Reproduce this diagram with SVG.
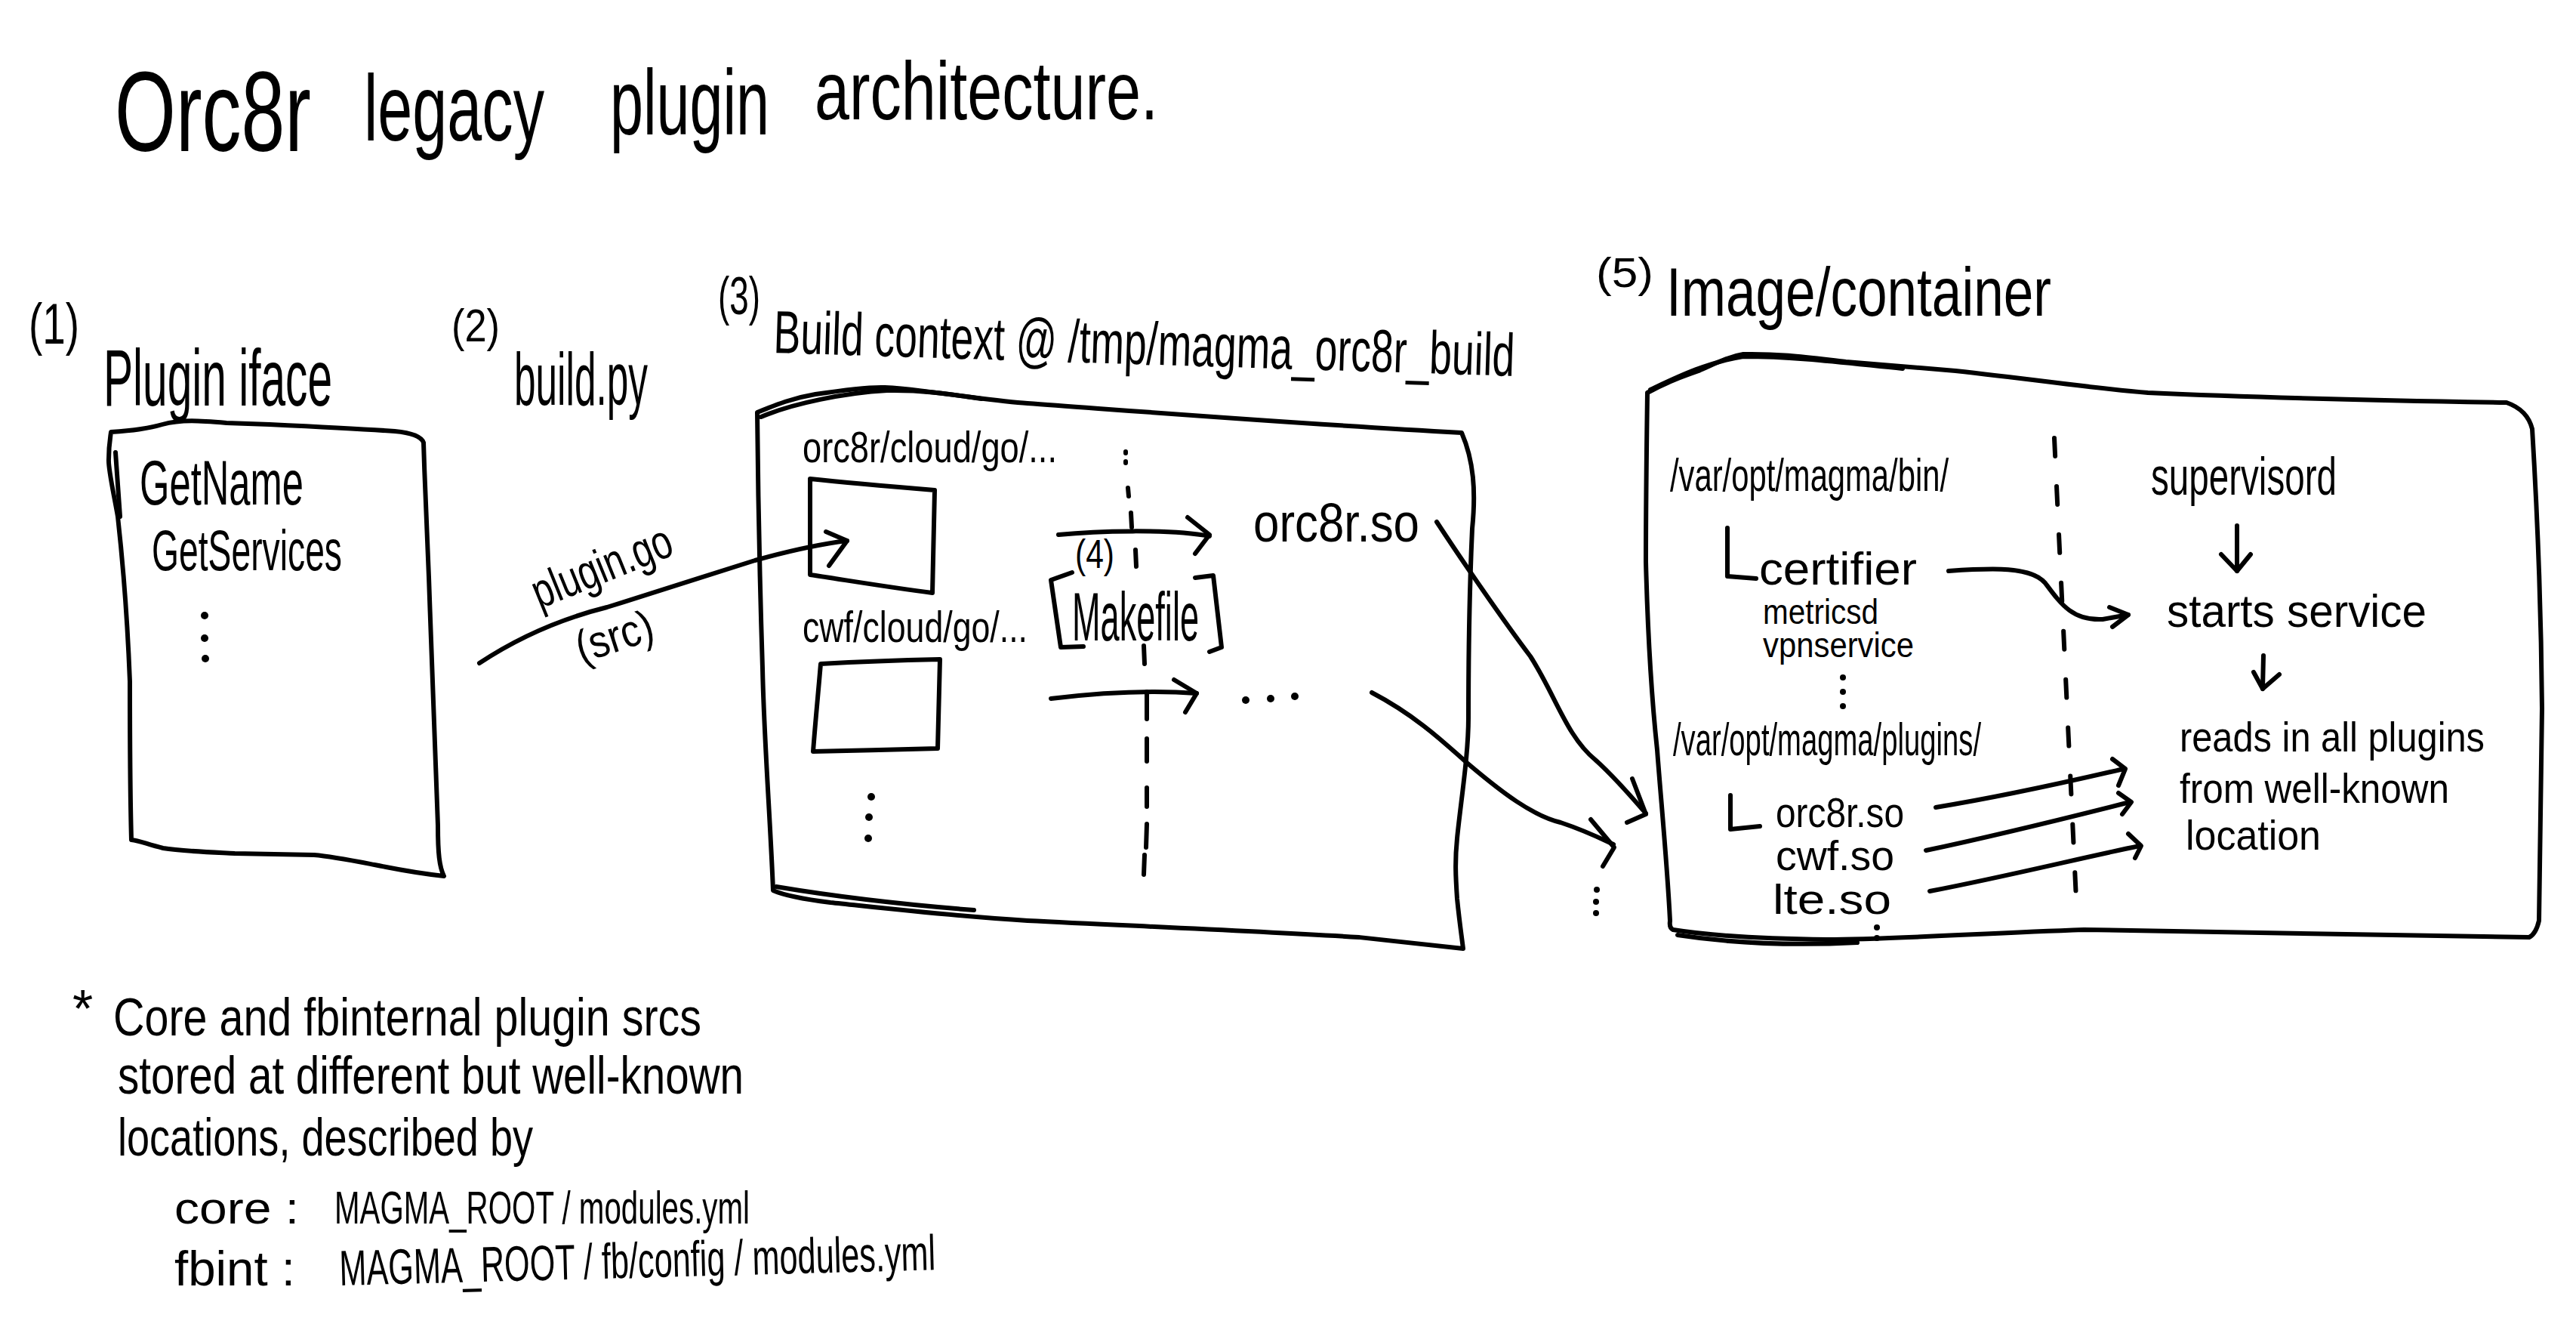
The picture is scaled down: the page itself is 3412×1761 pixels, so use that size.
<svg xmlns="http://www.w3.org/2000/svg" width="3412" height="1761" viewBox="0 0 3412 1761">
<style>
.s{fill:none;stroke:#000;stroke-width:6;stroke-linecap:round;stroke-linejoin:round}
.d{fill:none;stroke:#000;stroke-width:6;stroke-linecap:round;stroke-dasharray:24 40}
.t{font-family:"Liberation Sans Narrow","Liberation Sans","DejaVu Sans Condensed",sans-serif;fill:#000}
.dot{fill:#000}
</style>
<rect width="3412" height="1761" fill="#fff"/>
<g id="title">
<text class="t" x="152" y="200" font-size="150" textLength="260" lengthAdjust="spacingAndGlyphs">Orc8r</text>
<text class="t" x="482" y="186" font-size="125" textLength="239" lengthAdjust="spacingAndGlyphs">legacy</text>
<text class="t" x="808" y="178" font-size="122" textLength="211" lengthAdjust="spacingAndGlyphs">plugin</text>
<text class="t" x="1079" y="158" font-size="110" textLength="455" lengthAdjust="spacingAndGlyphs">architecture.</text>
</g>
<g id="node-plugin-iface">
<text class="t" x="38" y="455" font-size="76" textLength="67" lengthAdjust="spacingAndGlyphs">(1)</text>
<text class="t" x="137" y="537" font-size="105" textLength="303" lengthAdjust="spacingAndGlyphs">Plugin iface</text>
<path class="s" d="M147,572 C175,570 195,568 215,562 C240,555 265,557 300,560 L357,562 C420,565 480,568 523,571 C545,573 558,578 561,586 C563,650 566,720 568,764 C572,880 577,1000 580,1093 C580,1130 582,1148 588,1160 C560,1157 530,1152 496,1145 C470,1140 440,1134 416,1132 L311,1130 C270,1128 240,1127 216,1123 C195,1118 185,1113 174,1112 C172,1040 172,960 172,902 C168,800 160,720 156,684 C150,650 143,620 144,608 C144,590 146,580 147,572 Z"/>
<path class="s" d="M153,599 L159,684"/>
<text class="t" x="185" y="668" font-size="84" textLength="217" lengthAdjust="spacingAndGlyphs">GetName</text>
<text class="t" x="201" y="755" font-size="76" textLength="252" lengthAdjust="spacingAndGlyphs">GetServices</text>
<circle class="dot" cx="271" cy="815" r="5"/>
<circle class="dot" cx="271" cy="845" r="5"/>
<circle class="dot" cx="272" cy="872" r="5"/>
</g>
<g id="node-build-py">
<text class="t" x="598" y="452" font-size="62" textLength="64" lengthAdjust="spacingAndGlyphs">(2)</text>
<text class="t" x="681" y="536" font-size="98" textLength="177" lengthAdjust="spacingAndGlyphs">build.py</text>
</g>
<g id="node-build-context">
<text class="t" x="951" y="416" font-size="70" textLength="56" lengthAdjust="spacingAndGlyphs">(3)</text>
<text class="t" x="1024" y="467" font-size="80" textLength="982" lengthAdjust="spacingAndGlyphs" transform="rotate(1.8 1024 467)">Build context @ /tmp/magma_orc8r_build</text>
<path class="s" d="M1003,546 C1030,535 1050,527 1080,522 C1120,516 1150,512 1172,513 C1200,514 1220,518 1240,520 C1290,526 1330,532 1361,534 C1500,544 1700,560 1936,573 C1952,610 1955,650 1950,700 C1947,765 1945,870 1945,950 C1945,1000 1935,1060 1930,1110 C1927,1140 1928,1160 1930,1190 C1933,1220 1936,1240 1938,1256 C1900,1252 1850,1246 1800,1241 C1650,1232 1500,1226 1361,1219 C1250,1212 1150,1200 1100,1195 C1060,1190 1035,1184 1024,1179 C1020,1080 1012,980 1010,885 C1006,760 1004,650 1003,546 Z"/>
<path class="s" d="M1008,552 C1050,534 1120,520 1175,517 C1230,516 1270,524 1300,528"/>
<path class="s" d="M1028,1174 C1100,1186 1200,1198 1290,1205"/>
<text class="t" x="1063" y="612" font-size="58" textLength="337" lengthAdjust="spacingAndGlyphs">orc8r/cloud/go/...</text>
<path class="s" d="M1073,634 C1130,640 1190,645 1238,649 C1237,700 1236,745 1235,785 C1180,778 1120,768 1073,761 C1073,720 1073,680 1073,634 Z"/>
<text class="t" x="1063" y="850" font-size="58" textLength="298" lengthAdjust="spacingAndGlyphs">cwf/cloud/go/...</text>
<path class="s" d="M1087,879 C1140,876 1200,874 1245,873 C1244,915 1243,955 1242,991 C1190,992 1130,994 1077,995 C1080,955 1084,915 1087,879 Z"/>
<circle class="dot" cx="1154" cy="1055" r="5"/>
<circle class="dot" cx="1151" cy="1082" r="5"/>
<circle class="dot" cx="1150" cy="1110" r="5"/>
<path class="s" d="M1491,598 L1491,600 M1491,611 L1491,613 M1494,646 L1495,657 M1498,679 L1499,698 M1504,728 L1505,750 M1515,855 L1516,879 M1519,916 L1519,952 M1519,978 L1519,1008 M1519,1043 L1519,1068 M1519,1091 L1518,1122 M1516,1132 L1515,1158"/>
<text class="t" x="1424" y="752" font-size="54" textLength="52" lengthAdjust="spacingAndGlyphs">(4)</text>
<path class="s" d="M1420,758 L1392,768 L1405,857 L1435,856"/>
<path class="s" d="M1583,765 L1607,762 L1618,857 L1602,863"/>
<text class="t" x="1420" y="848" font-size="90" textLength="168" lengthAdjust="spacingAndGlyphs">Makefile</text>
<text class="t" x="1660" y="717" font-size="72" textLength="220" lengthAdjust="spacingAndGlyphs">orc8r.so</text>
<circle class="dot" cx="1650" cy="927" r="5"/>
<circle class="dot" cx="1683" cy="925" r="5"/>
<circle class="dot" cx="1715" cy="922" r="5"/>
</g>
<g id="node-image">
<text class="t" x="2114" y="380" font-size="56" textLength="76" lengthAdjust="spacingAndGlyphs">(5)</text>
<text class="t" x="2207" y="418" font-size="90" textLength="510" lengthAdjust="spacingAndGlyphs">Image/container</text>
<path class="s" d="M2182,520 C2210,505 2230,498 2250,491 C2275,480 2290,472 2309,469 C2360,468 2400,474 2445,479 C2500,484 2550,488 2590,491 C2700,503 2780,515 2845,520 C3000,527 3200,531 3320,533 C3340,540 3350,552 3354,568 C3362,700 3366,820 3367,938 C3366,1050 3364,1150 3363,1219 C3360,1232 3356,1238 3350,1241 C3150,1238 2950,1235 2760,1231 C2620,1236 2500,1244 2420,1244 C2330,1243 2260,1238 2216,1231 C2210,1228 2212,1222 2212,1219 C2208,1140 2200,1060 2195,993 C2185,900 2182,820 2180,744 C2180,660 2181,590 2182,520 Z"/>
<path class="s" d="M2186,516 C2220,500 2260,480 2309,472 C2380,472 2440,480 2520,488"/>
<path class="s" d="M2222,1238 C2300,1250 2380,1252 2460,1248"/>
<text class="t" x="2212" y="650" font-size="62" textLength="369" lengthAdjust="spacingAndGlyphs">/var/opt/magma/bin/</text>
<path class="s" d="M2288,699 L2288,763 L2326,766"/>
<text class="t" x="2330" y="774" font-size="62" textLength="209" lengthAdjust="spacingAndGlyphs">certifier</text>
<text class="t" x="2335" y="826" font-size="46" textLength="153" lengthAdjust="spacingAndGlyphs">metricsd</text>
<text class="t" x="2335" y="870" font-size="46" textLength="200" lengthAdjust="spacingAndGlyphs">vpnservice</text>
<circle class="dot" cx="2441" cy="897" r="4"/>
<circle class="dot" cx="2441" cy="916" r="4"/>
<circle class="dot" cx="2441" cy="935" r="4"/>
<text class="t" x="2216" y="1000" font-size="62" textLength="408" lengthAdjust="spacingAndGlyphs">/var/opt/magma/plugins/</text>
<path class="s" d="M2292,1053 L2292,1098 L2331,1094"/>
<text class="t" x="2352" y="1095" font-size="56" textLength="170" lengthAdjust="spacingAndGlyphs">orc8r.so</text>
<text class="t" x="2352" y="1152" font-size="56" textLength="157" lengthAdjust="spacingAndGlyphs">cwf.so</text>
<text class="t" x="2348" y="1210" font-size="56" textLength="157" lengthAdjust="spacingAndGlyphs">lte.so</text>
<circle class="dot" cx="2486" cy="1228" r="4"/>
<circle class="dot" cx="2486" cy="1242" r="4"/>
<path class="d" d="M2721,580 L2751,1212"/>
<text class="t" x="2849" y="655" font-size="70" textLength="246" lengthAdjust="spacingAndGlyphs">supervisord</text>
<text class="t" x="2870" y="830" font-size="62" textLength="344" lengthAdjust="spacingAndGlyphs">starts service</text>
<text class="t" x="2887" y="995" font-size="56" textLength="404" lengthAdjust="spacingAndGlyphs">reads in all plugins</text>
<text class="t" x="2887" y="1063" font-size="56" textLength="357" lengthAdjust="spacingAndGlyphs">from well-known</text>
<text class="t" x="2895" y="1125" font-size="56" textLength="179" lengthAdjust="spacingAndGlyphs">location</text>
</g>
<g id="note">
<text class="t" x="96" y="1360" font-size="70">*</text>
<text class="t" x="150" y="1371" font-size="70" textLength="779" lengthAdjust="spacingAndGlyphs">Core and fbinternal plugin srcs</text>
<text class="t" x="156" y="1448" font-size="70" textLength="829" lengthAdjust="spacingAndGlyphs">stored at different but well-known</text>
<text class="t" x="156" y="1530" font-size="70" textLength="550" lengthAdjust="spacingAndGlyphs">locations, described by</text>
<text class="t" x="231" y="1620" font-size="60" textLength="165" lengthAdjust="spacingAndGlyphs">core :</text>
<text class="t" x="443" y="1620" font-size="62" textLength="550" lengthAdjust="spacingAndGlyphs">MAGMA_ROOT / modules.yml</text>
<text class="t" x="231" y="1702" font-size="64" textLength="160" lengthAdjust="spacingAndGlyphs">fbint :</text>
<text class="t" x="450" y="1702" font-size="66" textLength="790" lengthAdjust="spacingAndGlyphs" transform="rotate(-1.5 450 1702)">MAGMA_ROOT / fb/config / modules.yml</text>
</g>
<g id="connectors">
<path class="s" d="M635,878 C700,835 760,815 804,804 C880,780 960,755 1000,742 C1050,728 1090,720 1122,716"/>
<path class="s" d="M1094,704 L1122,716 L1098,749"/>
<text class="t" x="805" y="770" font-size="64" text-anchor="middle" textLength="195" lengthAdjust="spacingAndGlyphs" transform="rotate(-22 805 770)">plugin.go</text>
<text class="t" x="820" y="862" font-size="60" text-anchor="middle" textLength="105" lengthAdjust="spacingAndGlyphs" transform="rotate(-18 820 862)">(src)</text>
<path class="s" d="M1402,708 C1450,703 1550,700 1602,710"/>
<path class="s" d="M1573,685 L1602,708 L1583,733"/>
<path class="s" d="M1392,925 C1450,918 1517,913 1585,918"/>
<path class="s" d="M1555,900 L1585,918 L1570,943"/>
<path class="s" d="M1903,691 C1935,740 1990,820 2027,869 C2060,920 2075,975 2113,1006 C2140,1030 2165,1060 2180,1077"/>
<path class="s" d="M2162,1031 L2180,1078 L2155,1089"/>
<path class="s" d="M1817,917 C1880,950 1920,990 1943,1010 C1990,1050 2030,1080 2067,1089 C2100,1100 2120,1110 2137,1118"/>
<path class="s" d="M2107,1085 L2138,1122 L2123,1147"/>
<circle class="dot" cx="2115" cy="1178" r="4"/>
<circle class="dot" cx="2114" cy="1194" r="4"/>
<circle class="dot" cx="2114" cy="1209" r="4"/>
<path class="s" d="M2581,756 C2640,752 2690,750 2709,772 C2730,800 2745,822 2785,820 L2819,814"/>
<path class="s" d="M2794,804 L2819,814 L2798,830"/>
<path class="s" d="M2963,696 L2963,756"/>
<path class="s" d="M2942,734 L2963,756 L2981,734"/>
<path class="s" d="M2998,868 L2997,912"/>
<path class="s" d="M2985,890 L2997,912 L3019,893"/>
<path class="s" d="M2564,1069 C2650,1055 2740,1035 2813,1018"/>
<path class="s" d="M2798,1005 L2815,1018 L2806,1040"/>
<path class="s" d="M2551,1126 C2650,1105 2750,1080 2821,1062"/>
<path class="s" d="M2806,1050 L2823,1062 L2811,1078"/>
<path class="s" d="M2556,1180 C2660,1160 2760,1135 2834,1120"/>
<path class="s" d="M2819,1104 L2836,1120 L2828,1136"/>
</g>
</svg>
